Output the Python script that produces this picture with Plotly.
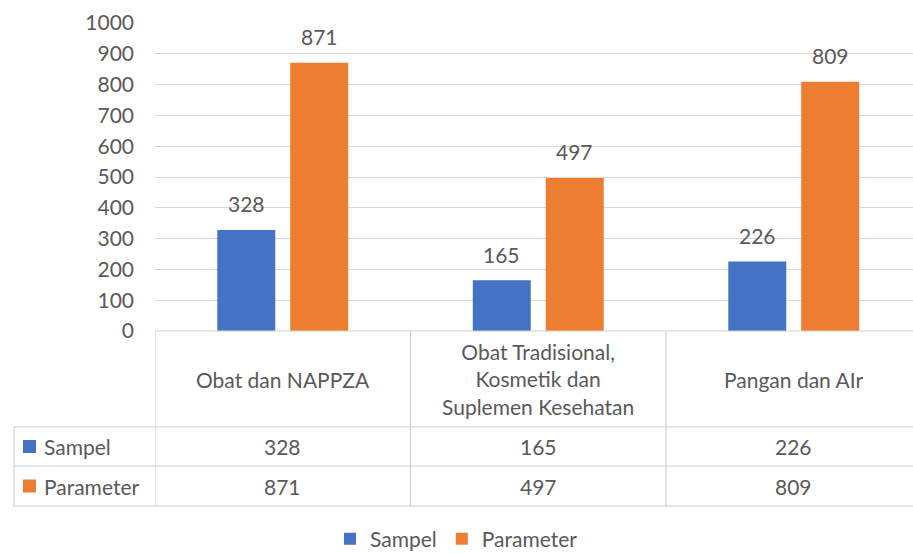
import plotly.graph_objects as go

categories = ["Obat dan NAPPZA", "Obat Tradisional, Kosmetik dan Suplemen Kesehatan", "Pangan dan AIr"]
category_labels = ["Obat dan NAPPZA", "Obat Tradisional,<br>Kosmetik dan<br>Suplemen Kesehatan", "Pangan dan AIr"]
series_names = ["Sampel", "Parameter"]
sampel = [328, 165, 226]
parameter = [871, 497, 809]
y_ticks = [0, 100, 200, 300, 400, 500, 600, 700, 800, 900, 1000]

colors = ["#4472C4", "#ED7D31"]
text_color = "#595959"
grid_color = "#D9D9D9"
FONT = "Lato"
FS = 21

W, H = 913, 553
def px(x):
    return x / W
def py(y):
    return 1 - y / H

fig = go.Figure()
series = [sampel, parameter]
for name, vals, col in zip(series_names, series, colors):
    fig.add_trace(go.Bar(x=categories, y=vals, name=name, marker=dict(color=col, line=dict(width=0))))

plot_top, plot_bottom = 23, 331
row_bounds = [331, 427, 466, 506]
slot_shift = 36.5

annotations = []
for si, (vals, shift) in enumerate(zip(series, [-slot_shift, slot_shift])):
    for c, v in zip(categories, vals):
        annotations.append(dict(x=c, y=v, xref="x", yref="y", text=str(v), showarrow=False,
                                xshift=shift, yshift=26, yanchor="middle",
                                font=dict(family=FONT, size=FS, color=text_color)))
hdr_center = (row_bounds[0] + row_bounds[1]) / 2
for c, lab in zip(categories, category_labels):
    annotations.append(dict(x=c, y=py(hdr_center), xref="x", yref="paper", text=lab, showarrow=False,
                            yanchor="middle", font=dict(family=FONT, size=FS, color=text_color)))
shapes = []
for ri, (name, vals, col) in enumerate(zip(series_names, series, colors)):
    yc = (row_bounds[ri + 1] + row_bounds[ri + 2]) / 2
    for c, v in zip(categories, vals):
        annotations.append(dict(x=c, y=py(yc), xref="x", yref="paper", text=str(v), showarrow=False,
                                yanchor="middle", font=dict(family=FONT, size=FS, color=text_color)))
    annotations.append(dict(x=px(42), y=py(yc), xref="paper", yref="paper", text=name, showarrow=False,
                            xanchor="left", yanchor="middle", font=dict(family=FONT, size=FS, color=text_color)))
    shapes.append(dict(type="rect", xref="paper", yref="paper", x0=px(23), x1=px(36),
                       y0=py(yc - 6.5), y1=py(yc + 6.5), fillcolor=col, line=dict(width=0)))

line_style = dict(color="#D0D0D0", width=1.2)
shapes.append(dict(type="line", xref="paper", yref="paper", x0=px(155), x1=1, y0=py(row_bounds[0]), y1=py(row_bounds[0]), line=line_style))
for yb in row_bounds[1:]:
    shapes.append(dict(type="line", xref="paper", yref="paper", x0=px(14), x1=1, y0=py(yb), y1=py(yb), line=line_style))
shapes.append(dict(type="line", xref="paper", yref="paper", x0=px(14), x1=px(14), y0=py(row_bounds[1]), y1=py(row_bounds[3]), line=line_style))
for xb in [-0.5, 0.5, 1.5]:
    shapes.append(dict(type="line", xref="x", yref="paper", x0=xb, x1=xb, y0=py(row_bounds[0]), y1=py(row_bounds[3]), line=line_style))

plot_left = 155
units_per_px = 1 / 255.5
x_right = -0.5 + (W - plot_left) * units_per_px

fig.update_layout(
    width=W, height=H,
    margin=dict(l=0, r=0, t=0, b=0, autoexpand=False),
    paper_bgcolor="white", plot_bgcolor="white",
    barmode="group", bargap=0.429, bargroupgap=0.205,
    font=dict(family=FONT, size=FS, color=text_color),
    xaxis=dict(domain=[px(plot_left), 1], range=[-0.5, x_right], showticklabels=False,
               showgrid=False, zeroline=False, showline=False, ticks=""),
    yaxis=dict(domain=[py(plot_bottom), py(plot_top)], range=[0, 1000], tickvals=y_ticks,
               showgrid=True, gridcolor=grid_color, gridwidth=1.2, zeroline=False, showline=False,
               ticklabelstandoff=20, tickfont=dict(family=FONT, size=FS, color=text_color)),
    legend=dict(orientation="h", x=0.5, xanchor="center", y=py(539), yanchor="middle",
                font=dict(family=FONT, size=FS, color=text_color), bgcolor="rgba(0,0,0,0)"),
    annotations=annotations,
    shapes=shapes,
)

fig.write_html("out.html", config={"displayModeBar": False},
               post_script="document.body.style.margin='0';document.body.style.overflow='hidden';")
